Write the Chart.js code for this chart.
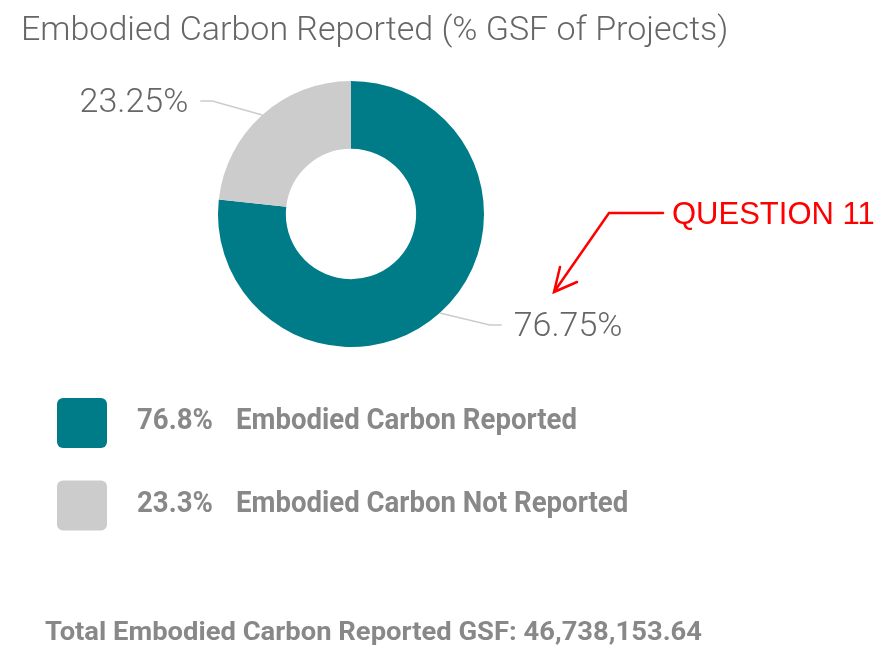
<!DOCTYPE html>
<html><head><meta charset="utf-8">
<script src="https://cdn.jsdelivr.net/npm/chart.js@4/dist/chart.umd.min.js"></script>
<style>
html,body{margin:0;padding:0;background:#fff;}
#wrap{position:relative;width:885px;height:652px;}
canvas{display:block;}
</style>
</head><body>
<div id="wrap"><canvas id="c" width="885" height="652"></canvas></div>
<script>
// ---- data ----
const chartTitle = 'Embodied Carbon Reported (% GSF of Projects)';
const categories = ['Embodied Carbon Reported', 'Embodied Carbon Not Reported'];
const values = [76.75, 23.25];
const legendPercents = ['76.8%', '23.3%'];
const sliceLabels = ['76.75%', '23.25%'];
const colors = ['#007C89', '#CCCCCC'];
const totalLabel = 'Total Embodied Carbon Reported GSF: 46,738,153.64';
const annotationText = 'QUESTION 11';

function scaledText(ctx, text, x, y, sx) {
  ctx.save();
  ctx.translate(x, y);
  ctx.scale(sx, 1);
  ctx.fillText(text, 0, 0);
  ctx.restore();
}

const overlay = {
  id: 'overlay',
  afterDraw(chart) {
    const ctx = chart.ctx;
    ctx.save();
    // title
    ctx.font = '300 34px Roboto';
    ctx.fillStyle = '#666666';
    ctx.textAlign = 'left';
    ctx.textBaseline = 'alphabetic';
    ctx.fillText(chartTitle, 21, 40);

    // slice labels with leader lines
    const meta = chart.getDatasetMeta(0);
    meta.data.forEach((arc, i) => {
      const p = arc.getProps(['x', 'y', 'startAngle', 'endAngle', 'outerRadius'], true);
      const mid = (p.startAngle + p.endAngle) / 2;
      const px = p.x + Math.cos(mid) * p.outerRadius;
      const py = p.y + Math.sin(mid) * p.outerRadius;
      const side = Math.cos(mid) >= 0 ? 1 : -1;
      const ex = px + side * 50;
      const ey = py + (Math.sin(mid) > 0 ? 12 : -14);
      const fx = ex + side * 12;
      ctx.strokeStyle = '#cccccc';
      ctx.lineWidth = 1.5;
      ctx.beginPath();
      ctx.moveTo(px, py);
      ctx.lineTo(ex, ey);
      ctx.lineTo(fx, ey);
      ctx.stroke();
      ctx.font = '300 34px Roboto';
      ctx.fillStyle = '#666666';
      ctx.textAlign = side > 0 ? 'left' : 'right';
      ctx.fillText(sliceLabels[i], fx + side * 12, ey + 11);
    });

    // legend
    ctx.textAlign = 'left';
    ctx.font = 'bold 29px Roboto';
    const catW = ctx.measureText(categories[0]).width;
    const sx = 341 / catW;
    categories.forEach((c, i) => {
      const y0 = 398 + i * 82.5;
      ctx.fillStyle = colors[i];
      ctx.beginPath();
      ctx.roundRect(57, y0, 50, 50, 6);
      ctx.fill();
      ctx.fillStyle = '#888888';
      scaledText(ctx, legendPercents[i], 137, y0 + 31, sx);
      scaledText(ctx, c, 236, y0 + 31, sx);
    });

    // footer
    ctx.font = 'bold 25px Roboto';
    const tw = ctx.measureText(totalLabel).width;
    ctx.fillStyle = '#888888';
    scaledText(ctx, totalLabel, 45, 640, 657 / tw);

    // annotation
    ctx.fillStyle = '#ff0000';
    ctx.font = '31px "Liberation Sans", Arial, sans-serif';
    ctx.fillText(annotationText, 672, 224);
    ctx.strokeStyle = '#ff0000';
    ctx.lineWidth = 2.5;
    ctx.lineCap = 'round';
    ctx.beginPath();
    ctx.moveTo(663, 213);
    ctx.lineTo(609, 213);
    ctx.lineTo(554, 292);
    ctx.moveTo(560, 267);
    ctx.lineTo(554, 292);
    ctx.lineTo(577, 282);
    ctx.stroke();
    ctx.restore();
  }
};

new Chart(document.getElementById('c'), {
  type: 'doughnut',
  data: {
    labels: categories,
    datasets: [{
      data: values,
      backgroundColor: colors,
      borderWidth: 0,
      hoverOffset: 0
    }]
  },
  options: {
    responsive: false,
    devicePixelRatio: 1,
    animation: false,
    cutout: '49%',
    layout: { padding: { left: 218, right: 401, top: 81, bottom: 305 } },
    plugins: { legend: { display: false }, tooltip: { enabled: false } }
  },
  plugins: [overlay]
});
</script>
</body></html>
